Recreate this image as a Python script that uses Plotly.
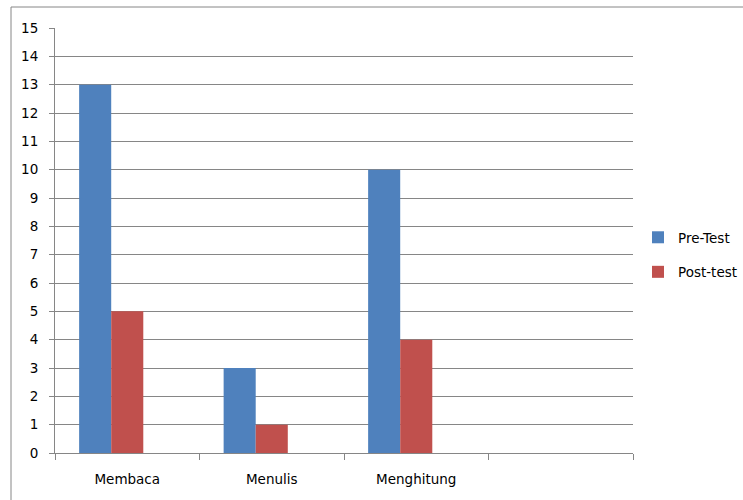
import plotly.graph_objects as go

categories = ["Membaca", "Menulis", "Menghitung", " "]
pre_test = [13, 3, 10, None]
post_test = [5, 1, 4, None]
y_ticks = list(range(0, 16))

W, H = 743, 500
ml, mr, mt, mb = 55, 110, 28, 47
pw = W - ml - mr
ph = H - mt - mb

fig = go.Figure()
fig.add_trace(go.Bar(x=categories, y=pre_test, name="Pre-Test",
                     marker=dict(color="#4F81BD", line=dict(width=0)),
                     width=0.222, offset=-0.333, legendgroup="a"))
fig.add_trace(go.Bar(x=categories, y=post_test, name="Post-test",
                     marker=dict(color="#C0504D", line=dict(width=0)),
                     width=0.222, offset=-0.111, legendgroup="b"))

def px(x):
    return (x - ml) / pw

def py(y):
    return 1 - (y - mt) / ph

fig.update_layout(
    width=W, height=H,
    margin=dict(l=ml, r=mr, t=mt, b=mb, autoexpand=False),
    paper_bgcolor="white", plot_bgcolor="white",
    barmode="overlay",
    font=dict(family="DejaVu Sans", size=13.5, color="#000000"),
    legend=dict(x=px(638), y=py(222), xanchor="left", yanchor="top",
                font=dict(size=13.5), tracegroupgap=14, itemwidth=30,
                bgcolor="rgba(0,0,0,0)"),
    showlegend=True,
    shapes=[
        dict(type="line", xref="paper", yref="paper", x0=px(11), x1=px(743),
             y0=py(7), y1=py(7), line=dict(color="#868686", width=1)),
        dict(type="line", xref="paper", yref="paper", x0=px(11), x1=px(11),
             y0=py(7), y1=py(500), line=dict(color="#868686", width=1)),
    ],
)
fig.update_xaxes(type="category", categoryorder="array", categoryarray=categories,
                 range=[-0.5, 3.5], tickson="boundaries", ticks="outside",
                 ticklen=6, tickcolor="#868686", showgrid=False,
                 showline=True, linecolor="#868686", linewidth=1,
                 ticklabelstandoff=14)
fig.update_yaxes(range=[0, 15], tickvals=y_ticks, ticks="outside", ticklen=5,
                 tickcolor="#868686", showgrid=True, gridcolor="#868686",
                 gridwidth=1, showline=True, linecolor="#868686", linewidth=1,
                 zeroline=False, ticklabelstandoff=8)

fig.write_html("out.html")
